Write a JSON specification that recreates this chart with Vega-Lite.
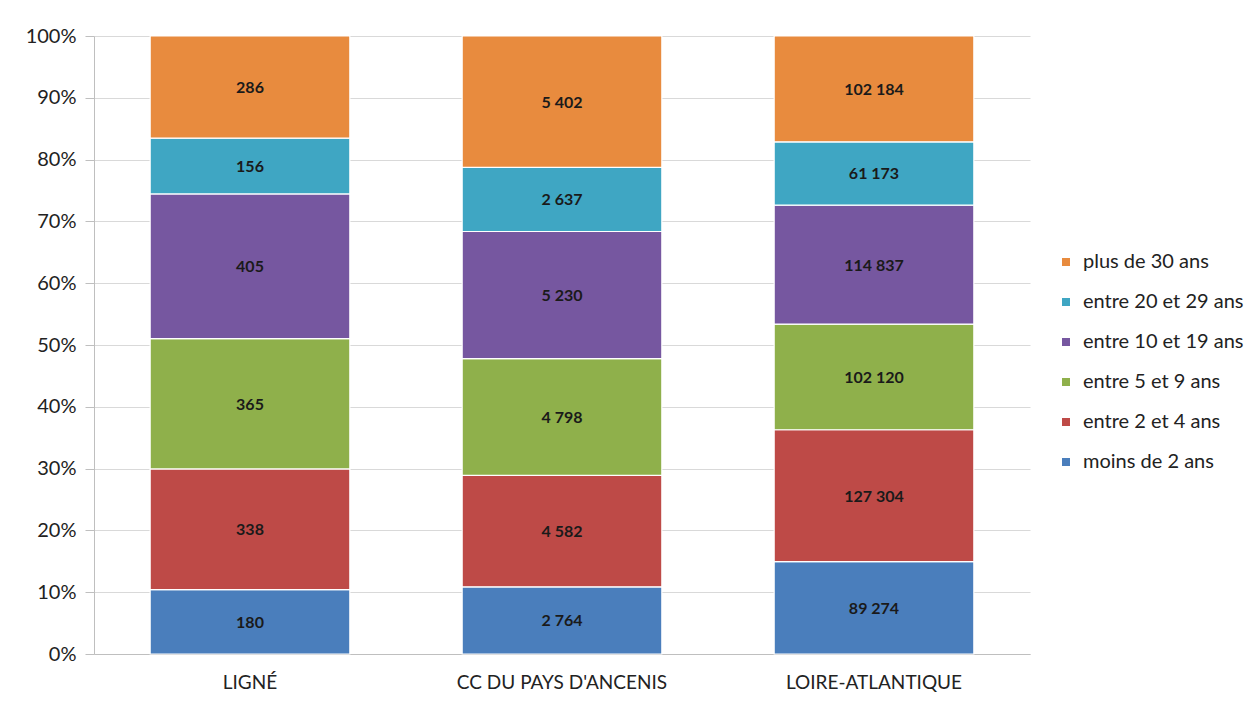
{
  "$schema": "https://vega.github.io/schema/vega-lite/v6.json",
  "width": 936,
  "height": 618,
  "autosize": {"type": "none"},
  "padding": {"left": 94, "top": 36, "right": 226, "bottom": 48},
  "background": "white",
  "config": {
    "view": {"stroke": null},
    "font": "Lato",
    "locale": {"number": {"decimal": ",", "thousands": " ", "grouping": [3], "currency": ["", " €"]}}
  },
  "data": {"values": [
    {"territoire": "LIGNÉ", "age": "moins de 2 ans", "ordre": 1, "n": 180},
    {"territoire": "LIGNÉ", "age": "entre 2 et 4 ans", "ordre": 2, "n": 338},
    {"territoire": "LIGNÉ", "age": "entre 5 et 9 ans", "ordre": 3, "n": 365},
    {"territoire": "LIGNÉ", "age": "entre 10 et 19 ans", "ordre": 4, "n": 405},
    {"territoire": "LIGNÉ", "age": "entre 20 et 29 ans", "ordre": 5, "n": 156},
    {"territoire": "LIGNÉ", "age": "plus de 30 ans", "ordre": 6, "n": 286},
    {"territoire": "CC DU PAYS D'ANCENIS", "age": "moins de 2 ans", "ordre": 1, "n": 2764},
    {"territoire": "CC DU PAYS D'ANCENIS", "age": "entre 2 et 4 ans", "ordre": 2, "n": 4582},
    {"territoire": "CC DU PAYS D'ANCENIS", "age": "entre 5 et 9 ans", "ordre": 3, "n": 4798},
    {"territoire": "CC DU PAYS D'ANCENIS", "age": "entre 10 et 19 ans", "ordre": 4, "n": 5230},
    {"territoire": "CC DU PAYS D'ANCENIS", "age": "entre 20 et 29 ans", "ordre": 5, "n": 2637},
    {"territoire": "CC DU PAYS D'ANCENIS", "age": "plus de 30 ans", "ordre": 6, "n": 5402},
    {"territoire": "LOIRE-ATLANTIQUE", "age": "moins de 2 ans", "ordre": 1, "n": 89274},
    {"territoire": "LOIRE-ATLANTIQUE", "age": "entre 2 et 4 ans", "ordre": 2, "n": 127304},
    {"territoire": "LOIRE-ATLANTIQUE", "age": "entre 5 et 9 ans", "ordre": 3, "n": 102120},
    {"territoire": "LOIRE-ATLANTIQUE", "age": "entre 10 et 19 ans", "ordre": 4, "n": 114837},
    {"territoire": "LOIRE-ATLANTIQUE", "age": "entre 20 et 29 ans", "ordre": 5, "n": 61173},
    {"territoire": "LOIRE-ATLANTIQUE", "age": "plus de 30 ans", "ordre": 6, "n": 102184}
  ]},
  "transform": [
    {"stack": "n", "groupby": ["territoire"], "sort": [{"field": "ordre", "order": "ascending"}], "offset": "normalize", "as": ["y0", "y1"]},
    {"calculate": "(datum.y0 + datum.y1) / 2", "as": "ymid"}
  ],
  "encoding": {
    "x": {
      "field": "territoire", "type": "nominal", "sort": null,
      "scale": {"paddingInner": 0.36, "paddingOuter": 0.18},
      "axis": {"title": null, "labelAngle": 0, "labelFontSize": 19, "labelColor": "#222", "labelPadding": 19, "labelLimit": 400, "ticks": false, "domainColor": "#bfbfbf", "labelFont": "Lato"}
    }
  },
  "layer": [
    {
      "mark": {"type": "bar", "stroke": "white", "strokeWidth": 1.2},
      "encoding": {
        "y": {"field": "y0", "type": "quantitative", "scale": {"domain": [0, 1], "nice": false},
          "axis": {"title": null, "format": ".0%", "values": [0,0.1,0.2,0.3,0.4,0.5,0.6,0.7,0.8,0.9,1], "labelOverlap": false, "labelFontSize": 20, "labelColor": "#222", "gridColor": "#d9d9d9", "domainColor": "#bfbfbf", "tickColor": "#bfbfbf", "tickSize": 9, "labelPadding": 9}},
        "y2": {"field": "y1"},
        "color": {
          "field": "age", "type": "nominal",
          "scale": {
            "domain": ["plus de 30 ans", "entre 20 et 29 ans", "entre 10 et 19 ans", "entre 5 et 9 ans", "entre 2 et 4 ans", "moins de 2 ans"],
            "range": ["#E88B3E", "#3FA6C3", "#7657A0", "#8FB04B", "#BE4A47", "#4A7EBC"]
          },
          "legend": {"title": null, "orient": "none", "legendX": 962, "legendY": 216, "symbolType": "square", "symbolSize": 90, "labelFontSize": 20, "labelColor": "#222", "rowPadding": 20, "labelOffset": 7, "labelLimit": 260}
        }
      }
    },
    {
      "mark": {"type": "text", "fontWeight": "bold", "fontSize": 16, "color": "#1a1a1a", "font": "Lato", "dy": 1},
      "encoding": {
        "y": {"field": "ymid", "type": "quantitative"},
        "text": {"field": "n", "type": "quantitative", "format": ",d"}
      }
    }
  ]
}
